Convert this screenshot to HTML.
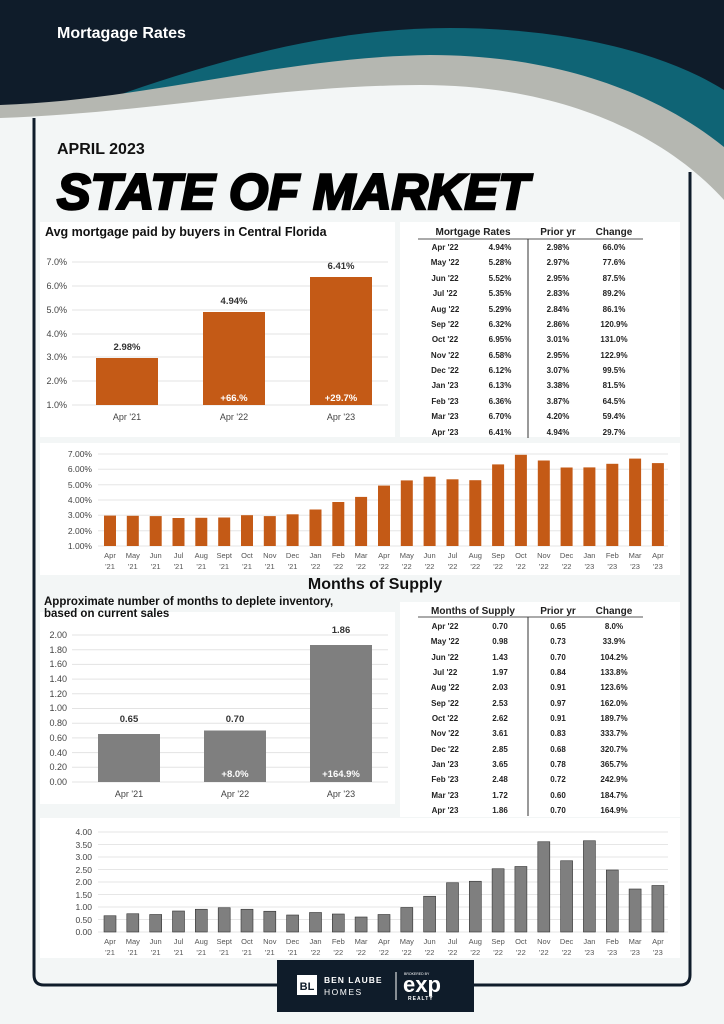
<!DOCTYPE html>
<html><head><meta charset="utf-8"><style>
html,body{margin:0;padding:0;background:#f3f6f6;}
svg{display:block;font-family:"Liberation Sans",sans-serif;}
</style></head><body>
<svg width="724" height="1024" viewBox="0 0 724 1024" xmlns="http://www.w3.org/2000/svg">
<rect width="724" height="1024" fill="#f3f6f6"/>
<!-- header -->
<rect width="724" height="140" fill="#0f1c2a"/>
<path d="M0,140 C150,80 300,28 450,28 C560,28 660,50 724,90 L724,300 L0,300Z" fill="#0f6475"/>
<path d="M0,105 C150,100 280,57 430,55 C560,55 660,95 724,147 L724,300 L0,300Z" fill="#b5b7b1"/>
<path d="M0,118 C150,113 270,86 420,85 C570,85 670,140 724,200 L724,300 L0,300Z" fill="#f3f6f6"/>
<text x="57" y="38" font-size="16" font-weight="bold" fill="#fff">Mortagage Rates</text>
<!-- frame -->
<path d="M34,118 L34,975 Q34,985 44,985 L680,985 Q690,985 690,975 L690,172" fill="none" stroke="#0f1c2a" stroke-width="3"/>
<text x="57" y="154" font-size="16" font-weight="bold" fill="#111">APRIL 2023</text>
<text x="57" y="209" font-size="50" font-weight="900" font-style="italic" fill="#000" stroke="#000" stroke-width="2.5" textLength="472" lengthAdjust="spacingAndGlyphs">STATE OF MARKET</text>

<!-- panel 1 -->
<rect x="40" y="222" width="355" height="215" fill="#fff"/>
<text x="45" y="236" font-size="12.5" font-weight="bold" fill="#111">Avg mortgage paid by buyers in Central Florida</text>
<g stroke="#e3e3e3" stroke-width="1">
<line x1="72" x2="388" y1="262" y2="262"/><line x1="72" x2="388" y1="286" y2="286"/><line x1="72" x2="388" y1="310" y2="310"/><line x1="72" x2="388" y1="334" y2="334"/><line x1="72" x2="388" y1="357" y2="357"/><line x1="72" x2="388" y1="381" y2="381"/><line x1="72" x2="388" y1="405" y2="405"/>
</g>
<g font-size="9" fill="#444" text-anchor="end">
<text x="67" y="265">7.0%</text><text x="67" y="289">6.0%</text><text x="67" y="313">5.0%</text><text x="67" y="337">4.0%</text><text x="67" y="360">3.0%</text><text x="67" y="384">2.0%</text><text x="67" y="408">1.0%</text>
</g>
<rect x="96" y="358" width="62" height="47" fill="#c45a16"/>
<rect x="203" y="312" width="62" height="93" fill="#c45a16"/>
<rect x="310" y="277" width="62" height="128" fill="#c45a16"/>
<g font-size="9.5" font-weight="bold" text-anchor="middle" fill="#333">
<text x="127" y="350">2.98%</text><text x="234" y="304">4.94%</text><text x="341" y="269">6.41%</text>
</g>
<g font-size="9.5" font-weight="bold" text-anchor="middle" fill="#fff">
<text x="234" y="401">+66.%</text><text x="341" y="401">+29.7%</text>
</g>
<g font-size="9" text-anchor="middle" fill="#444">
<text x="127" y="420">Apr '21</text><text x="234" y="420">Apr '22</text><text x="341" y="420">Apr '23</text>
</g>

<!-- table 1 -->
<rect x="400" y="222" width="280" height="215" fill="#fff"/>
<line x1="418" x2="643" y1="239" y2="239" stroke="#555" stroke-width="1"/>
<line x1="528" x2="528" y1="239" y2="438" stroke="#333" stroke-width="1"/>
<g font-size="10" font-weight="bold" fill="#222" text-anchor="middle">
<text x="473" y="235">Mortgage Rates</text><text x="558" y="235">Prior yr</text><text x="614" y="235">Change</text>
</g>
<g font-size="8" font-weight="bold" fill="#222" text-anchor="middle">
<text x="445" y="250">Apr '22</text><text x="500" y="250">4.94%</text><text x="558" y="250">2.98%</text><text x="614" y="250">66.0%</text>
<text x="445" y="265">May '22</text><text x="500" y="265">5.28%</text><text x="558" y="265">2.97%</text><text x="614" y="265">77.6%</text>
<text x="445" y="281">Jun '22</text><text x="500" y="281">5.52%</text><text x="558" y="281">2.95%</text><text x="614" y="281">87.5%</text>
<text x="445" y="296">Jul '22</text><text x="500" y="296">5.35%</text><text x="558" y="296">2.83%</text><text x="614" y="296">89.2%</text>
<text x="445" y="312">Aug '22</text><text x="500" y="312">5.29%</text><text x="558" y="312">2.84%</text><text x="614" y="312">86.1%</text>
<text x="445" y="327">Sep '22</text><text x="500" y="327">6.32%</text><text x="558" y="327">2.86%</text><text x="614" y="327">120.9%</text>
<text x="445" y="342">Oct '22</text><text x="500" y="342">6.95%</text><text x="558" y="342">3.01%</text><text x="614" y="342">131.0%</text>
<text x="445" y="358">Nov '22</text><text x="500" y="358">6.58%</text><text x="558" y="358">2.95%</text><text x="614" y="358">122.9%</text>
<text x="445" y="373">Dec '22</text><text x="500" y="373">6.12%</text><text x="558" y="373">3.07%</text><text x="614" y="373">99.5%</text>
<text x="445" y="388">Jan '23</text><text x="500" y="388">6.13%</text><text x="558" y="388">3.38%</text><text x="614" y="388">81.5%</text>
<text x="445" y="404">Feb '23</text><text x="500" y="404">6.36%</text><text x="558" y="404">3.87%</text><text x="614" y="404">64.5%</text>
<text x="445" y="419">Mar '23</text><text x="500" y="419">6.70%</text><text x="558" y="419">4.20%</text><text x="614" y="419">59.4%</text>
<text x="445" y="435">Apr '23</text><text x="500" y="435">6.41%</text><text x="558" y="435">4.94%</text><text x="614" y="435">29.7%</text>
</g>

<!-- panel 2 rates monthly -->
<rect x="40" y="443" width="640" height="132" fill="#fff"/>
<g stroke="#e6e6e6">
<line x1="98" x2="668" y1="454" y2="454"/><line x1="98" x2="668" y1="469.3" y2="469.3"/><line x1="98" x2="668" y1="484.7" y2="484.7"/><line x1="98" x2="668" y1="500" y2="500"/><line x1="98" x2="668" y1="515.3" y2="515.3"/><line x1="98" x2="668" y1="530.7" y2="530.7"/><line x1="98" x2="668" y1="546" y2="546"/>
</g>
<g font-size="8.5" fill="#444" text-anchor="end">
<text x="92" y="457">7.00%</text><text x="92" y="472">6.00%</text><text x="92" y="488">5.00%</text><text x="92" y="503">4.00%</text><text x="92" y="518">3.00%</text><text x="92" y="534">2.00%</text><text x="92" y="549">1.00%</text>
</g>
<g fill="#c45a16">
<rect x="104" y="515.6" width="12" height="30.4"/><rect x="126.8" y="515.8" width="12" height="30.2"/><rect x="149.7" y="516.1" width="12" height="29.9"/><rect x="172.5" y="518" width="12" height="28"/><rect x="195.3" y="517.8" width="12" height="28.2"/><rect x="218.2" y="517.5" width="12" height="28.5"/><rect x="241" y="515.2" width="12" height="30.8"/><rect x="263.8" y="516.1" width="12" height="29.9"/><rect x="286.6" y="514.3" width="12" height="31.7"/><rect x="309.5" y="509.5" width="12" height="36.5"/><rect x="332.3" y="502" width="12" height="44"/><rect x="355.1" y="496.9" width="12" height="49.1"/><rect x="378" y="485.6" width="12" height="60.4"/><rect x="400.8" y="480.4" width="12" height="65.6"/><rect x="423.6" y="476.7" width="12" height="69.3"/><rect x="446.5" y="479.3" width="12" height="66.7"/><rect x="469.3" y="480.2" width="12" height="65.8"/><rect x="492.1" y="464.4" width="12" height="81.6"/><rect x="514.9" y="454.8" width="12" height="91.2"/><rect x="537.8" y="460.5" width="12" height="85.5"/><rect x="560.6" y="467.5" width="12" height="78.5"/><rect x="583.4" y="467.4" width="12" height="78.6"/><rect x="606.3" y="463.8" width="12" height="82.2"/><rect x="629.1" y="458.6" width="12" height="87.4"/><rect x="651.9" y="463.1" width="12" height="82.9"/>
</g>
<g font-size="7.5" fill="#555" text-anchor="middle">
<text x="110" y="558">Apr</text><text x="132.8" y="558">May</text><text x="155.7" y="558">Jun</text><text x="178.5" y="558">Jul</text><text x="201.3" y="558">Aug</text><text x="224.2" y="558">Sept</text><text x="247" y="558">Oct</text><text x="269.8" y="558">Nov</text><text x="292.6" y="558">Dec</text><text x="315.5" y="558">Jan</text><text x="338.3" y="558">Feb</text><text x="361.1" y="558">Mar</text><text x="384" y="558">Apr</text><text x="406.8" y="558">May</text><text x="429.6" y="558">Jun</text><text x="452.5" y="558">Jul</text><text x="475.3" y="558">Aug</text><text x="498.1" y="558">Sep</text><text x="520.9" y="558">Oct</text><text x="543.8" y="558">Nov</text><text x="566.6" y="558">Dec</text><text x="589.4" y="558">Jan</text><text x="612.3" y="558">Feb</text><text x="635.1" y="558">Mar</text><text x="657.9" y="558">Apr</text>
<text x="110" y="569">'21</text><text x="132.8" y="569">'21</text><text x="155.7" y="569">'21</text><text x="178.5" y="569">'21</text><text x="201.3" y="569">'21</text><text x="224.2" y="569">'21</text><text x="247" y="569">'21</text><text x="269.8" y="569">'21</text><text x="292.6" y="569">'21</text><text x="315.5" y="569">'22</text><text x="338.3" y="569">'22</text><text x="361.1" y="569">'22</text><text x="384" y="569">'22</text><text x="406.8" y="569">'22</text><text x="429.6" y="569">'22</text><text x="452.5" y="569">'22</text><text x="475.3" y="569">'22</text><text x="498.1" y="569">'22</text><text x="520.9" y="569">'22</text><text x="543.8" y="569">'22</text><text x="566.6" y="569">'22</text><text x="589.4" y="569">'23</text><text x="612.3" y="569">'23</text><text x="635.1" y="569">'23</text><text x="657.9" y="569">'23</text>
</g>

<text x="375" y="589" font-size="16" font-weight="bold" text-anchor="middle" fill="#111">Months of Supply</text>

<!-- panel 3 -->
<rect x="40" y="612" width="355" height="192" fill="#fff"/>
<text x="44" y="605" font-size="11.5" font-weight="bold" fill="#111">Approximate number of months to deplete inventory,</text>
<text x="44" y="617" font-size="11.5" font-weight="bold" fill="#111">based on current sales</text>
<g stroke="#e3e3e3">
<line x1="72" x2="388" y1="635" y2="635"/><line x1="72" x2="388" y1="649.7" y2="649.7"/><line x1="72" x2="388" y1="664.4" y2="664.4"/><line x1="72" x2="388" y1="679.1" y2="679.1"/><line x1="72" x2="388" y1="693.8" y2="693.8"/><line x1="72" x2="388" y1="708.5" y2="708.5"/><line x1="72" x2="388" y1="723.2" y2="723.2"/><line x1="72" x2="388" y1="737.9" y2="737.9"/><line x1="72" x2="388" y1="752.6" y2="752.6"/><line x1="72" x2="388" y1="767.3" y2="767.3"/><line x1="72" x2="388" y1="782" y2="782"/>
</g>
<g font-size="9" fill="#444" text-anchor="end">
<text x="67" y="638">2.00</text><text x="67" y="653">1.80</text><text x="67" y="667">1.60</text><text x="67" y="682">1.40</text><text x="67" y="697">1.20</text><text x="67" y="711">1.00</text><text x="67" y="726">0.80</text><text x="67" y="741">0.60</text><text x="67" y="756">0.40</text><text x="67" y="770">0.20</text><text x="67" y="785">0.00</text>
</g>
<rect x="98" y="734" width="62" height="48" fill="#7f7f7f"/>
<rect x="204" y="730.5" width="62" height="51.5" fill="#7f7f7f"/>
<rect x="310" y="645" width="62" height="137" fill="#7f7f7f"/>
<g font-size="9.5" font-weight="bold" text-anchor="middle" fill="#333">
<text x="129" y="722">0.65</text><text x="235" y="722">0.70</text><text x="341" y="633">1.86</text>
</g>
<g font-size="9.5" font-weight="bold" text-anchor="middle" fill="#fff">
<text x="235" y="777">+8.0%</text><text x="341" y="777">+164.9%</text>
</g>
<g font-size="9" text-anchor="middle" fill="#444">
<text x="129" y="797">Apr '21</text><text x="235" y="797">Apr '22</text><text x="341" y="797">Apr '23</text>
</g>

<!-- table 2 -->
<rect x="400" y="602" width="280" height="215" fill="#fff"/>
<line x1="418" x2="643" y1="617" y2="617" stroke="#555"/>
<line x1="528" x2="528" y1="617" y2="816" stroke="#333"/>
<g font-size="10" font-weight="bold" fill="#222" text-anchor="middle">
<text x="473" y="614">Months of Supply</text><text x="558" y="614">Prior yr</text><text x="614" y="614">Change</text>
</g>
<g font-size="8" font-weight="bold" fill="#222" text-anchor="middle">
<text x="445" y="629">Apr '22</text><text x="500" y="629">0.70</text><text x="558" y="629">0.65</text><text x="614" y="629">8.0%</text>
<text x="445" y="644">May '22</text><text x="500" y="644">0.98</text><text x="558" y="644">0.73</text><text x="614" y="644">33.9%</text>
<text x="445" y="660">Jun '22</text><text x="500" y="660">1.43</text><text x="558" y="660">0.70</text><text x="614" y="660">104.2%</text>
<text x="445" y="675">Jul '22</text><text x="500" y="675">1.97</text><text x="558" y="675">0.84</text><text x="614" y="675">133.8%</text>
<text x="445" y="690">Aug '22</text><text x="500" y="690">2.03</text><text x="558" y="690">0.91</text><text x="614" y="690">123.6%</text>
<text x="445" y="706">Sep '22</text><text x="500" y="706">2.53</text><text x="558" y="706">0.97</text><text x="614" y="706">162.0%</text>
<text x="445" y="721">Oct '22</text><text x="500" y="721">2.62</text><text x="558" y="721">0.91</text><text x="614" y="721">189.7%</text>
<text x="445" y="736">Nov '22</text><text x="500" y="736">3.61</text><text x="558" y="736">0.83</text><text x="614" y="736">333.7%</text>
<text x="445" y="752">Dec '22</text><text x="500" y="752">2.85</text><text x="558" y="752">0.68</text><text x="614" y="752">320.7%</text>
<text x="445" y="767">Jan '23</text><text x="500" y="767">3.65</text><text x="558" y="767">0.78</text><text x="614" y="767">365.7%</text>
<text x="445" y="782">Feb '23</text><text x="500" y="782">2.48</text><text x="558" y="782">0.72</text><text x="614" y="782">242.9%</text>
<text x="445" y="798">Mar '23</text><text x="500" y="798">1.72</text><text x="558" y="798">0.60</text><text x="614" y="798">184.7%</text>
<text x="445" y="813">Apr '23</text><text x="500" y="813">1.86</text><text x="558" y="813">0.70</text><text x="614" y="813">164.9%</text>
</g>

<!-- panel 4 supply monthly -->
<rect x="40" y="818" width="640" height="140" fill="#fff"/>
<g stroke="#e6e6e6">
<line x1="98" x2="668" y1="832" y2="832"/><line x1="98" x2="668" y1="844.5" y2="844.5"/><line x1="98" x2="668" y1="857" y2="857"/><line x1="98" x2="668" y1="869.5" y2="869.5"/><line x1="98" x2="668" y1="882" y2="882"/><line x1="98" x2="668" y1="894.5" y2="894.5"/><line x1="98" x2="668" y1="907" y2="907"/><line x1="98" x2="668" y1="919.5" y2="919.5"/><line x1="98" x2="668" y1="932" y2="932"/>
</g>
<g font-size="8.5" fill="#444" text-anchor="end">
<text x="92" y="835">4.00</text><text x="92" y="848">3.50</text><text x="92" y="860">3.00</text><text x="92" y="873">2.50</text><text x="92" y="885">2.00</text><text x="92" y="898">1.50</text><text x="92" y="910">1.00</text><text x="92" y="923">0.50</text><text x="92" y="935">0.00</text>
</g>
<g fill="#7f7f7f" stroke="#333" stroke-width="0.6">
<rect x="104" y="915.75" width="12" height="16.25"/><rect x="126.8" y="913.75" width="12" height="18.25"/><rect x="149.7" y="914.5" width="12" height="17.5"/><rect x="172.5" y="911" width="12" height="21"/><rect x="195.3" y="909.25" width="12" height="22.75"/><rect x="218.2" y="907.75" width="12" height="24.25"/><rect x="241" y="909.25" width="12" height="22.75"/><rect x="263.8" y="911.25" width="12" height="20.75"/><rect x="286.6" y="915" width="12" height="17"/><rect x="309.5" y="912.5" width="12" height="19.5"/><rect x="332.3" y="914" width="12" height="18"/><rect x="355.1" y="917" width="12" height="15"/><rect x="378" y="914.5" width="12" height="17.5"/><rect x="400.8" y="907.5" width="12" height="24.5"/><rect x="423.6" y="896.25" width="12" height="35.75"/><rect x="446.5" y="882.75" width="12" height="49.25"/><rect x="469.3" y="881.25" width="12" height="50.75"/><rect x="492.1" y="868.75" width="12" height="63.25"/><rect x="514.9" y="866.5" width="12" height="65.5"/><rect x="537.8" y="841.75" width="12" height="90.25"/><rect x="560.6" y="860.75" width="12" height="71.25"/><rect x="583.4" y="840.75" width="12" height="91.25"/><rect x="606.3" y="870" width="12" height="62"/><rect x="629.1" y="889" width="12" height="43"/><rect x="651.9" y="885.5" width="12" height="46.5"/>
</g>
<g font-size="7.5" fill="#555" text-anchor="middle">
<text x="110" y="944">Apr</text><text x="132.8" y="944">May</text><text x="155.7" y="944">Jun</text><text x="178.5" y="944">Jul</text><text x="201.3" y="944">Aug</text><text x="224.2" y="944">Sept</text><text x="247" y="944">Oct</text><text x="269.8" y="944">Nov</text><text x="292.6" y="944">Dec</text><text x="315.5" y="944">Jan</text><text x="338.3" y="944">Feb</text><text x="361.1" y="944">Mar</text><text x="384" y="944">Apr</text><text x="406.8" y="944">May</text><text x="429.6" y="944">Jun</text><text x="452.5" y="944">Jul</text><text x="475.3" y="944">Aug</text><text x="498.1" y="944">Sep</text><text x="520.9" y="944">Oct</text><text x="543.8" y="944">Nov</text><text x="566.6" y="944">Dec</text><text x="589.4" y="944">Jan</text><text x="612.3" y="944">Feb</text><text x="635.1" y="944">Mar</text><text x="657.9" y="944">Apr</text>
<text x="110" y="955">'21</text><text x="132.8" y="955">'21</text><text x="155.7" y="955">'21</text><text x="178.5" y="955">'21</text><text x="201.3" y="955">'21</text><text x="224.2" y="955">'21</text><text x="247" y="955">'21</text><text x="269.8" y="955">'21</text><text x="292.6" y="955">'21</text><text x="315.5" y="955">'22</text><text x="338.3" y="955">'22</text><text x="361.1" y="955">'22</text><text x="384" y="955">'22</text><text x="406.8" y="955">'22</text><text x="429.6" y="955">'22</text><text x="452.5" y="955">'22</text><text x="475.3" y="955">'22</text><text x="498.1" y="955">'22</text><text x="520.9" y="955">'22</text><text x="543.8" y="955">'22</text><text x="566.6" y="955">'22</text><text x="589.4" y="955">'23</text><text x="612.3" y="955">'23</text><text x="635.1" y="955">'23</text><text x="657.9" y="955">'23</text>
</g>

<!-- logo -->
<rect x="277" y="960" width="197" height="52" fill="#0f1c2a"/>
<rect x="297" y="975" width="20" height="20" fill="#fff"/>
<text x="307" y="990" font-size="11" font-weight="bold" text-anchor="middle" fill="#0f1c2a">BL</text>
<text x="324" y="983" font-size="8.5" font-weight="bold" fill="#fff" letter-spacing="1">BEN LAUBE</text>
<text x="324" y="995" font-size="8.5" fill="#fff" letter-spacing="1.5">HOMES</text>
<line x1="396" x2="396" y1="972" y2="1000" stroke="#fff" stroke-width="1"/>
<text x="404" y="975" font-size="3.5" fill="#fff">BROKERED BY</text>
<text x="403" y="992" font-size="22" font-weight="bold" fill="#fff">exp</text>
<text x="408" y="1000" font-size="5" font-weight="bold" fill="#fff" letter-spacing="1">REALTY</text>
</svg>
</body></html>
